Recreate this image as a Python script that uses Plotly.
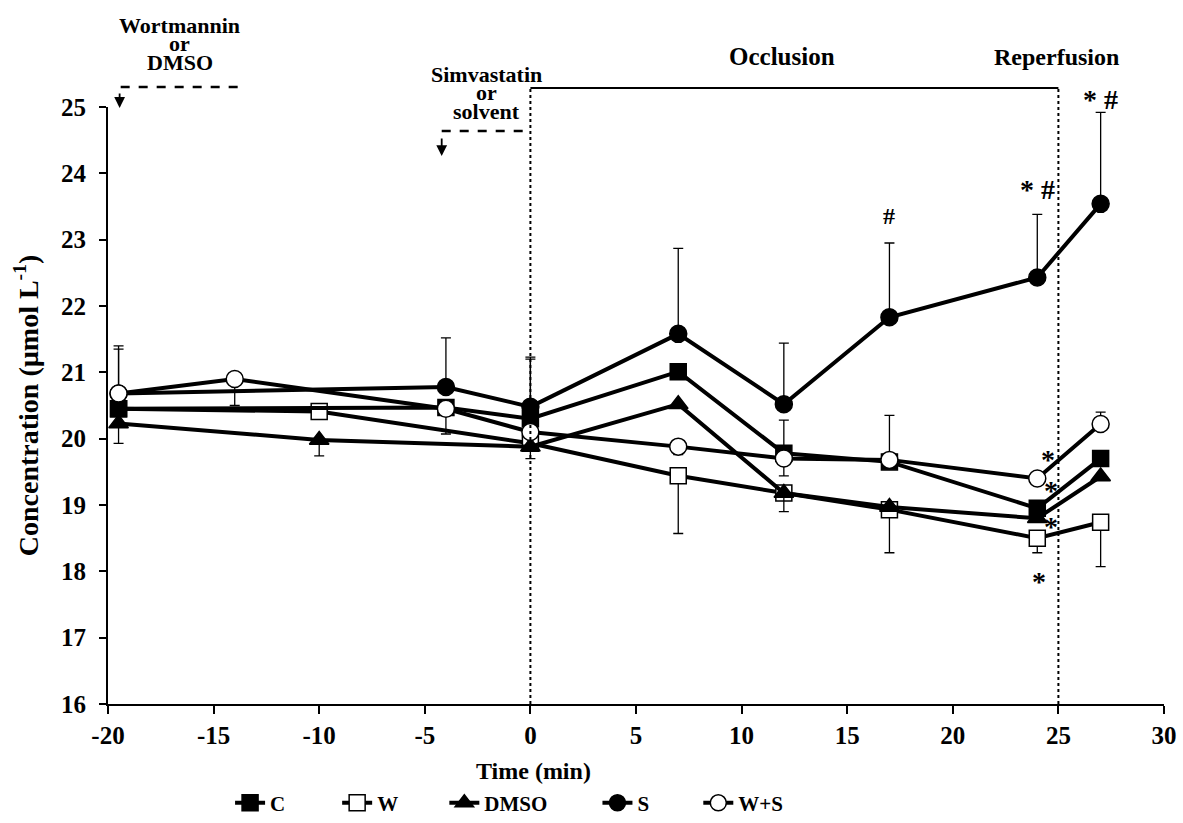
import plotly.graph_objects as go

# ---- data ----
t_C = [-19.5, -4, 0, 7, 12, 17, 24, 27]
C = [20.45, 20.47, 20.30, 21.01, 19.78, 19.65, 18.95, 19.70]
C_up = [0.90, 0, 0.90, 0, 0.50, 0, 0, 0]
C_dn = [0, 0, 0, 0, 0, 0, 0, 0]

t_W = [-19.5, -10, 0, 7, 12, 17, 24, 27]
W = [20.45, 20.41, 19.93, 19.44, 19.18, 18.93, 18.50, 18.74]
W_up = [0, 0, 0, 0, 0, 0, 0, 0]
W_dn = [0, 0, 0, 0.87, 0, 0.65, 0.22, 0.67]

t_D = [-19.5, -10, 0, 7, 12, 17, 24, 27]
DMSO = [20.23, 19.98, 19.88, 20.52, 19.18, 18.97, 18.80, 19.43]
D_up = [0, 0, 0, 0, 0, 0, 0, 0]
D_dn = [0.30, 0.24, 0.18, 0, 0.28, 0, 0, 0]

t_S = [-19.5, -4, 0, 7, 12, 17, 24, 27]
S = [20.68, 20.78, 20.48, 21.58, 20.52, 21.83, 22.43, 23.54]
S_up = [0.72, 0.74, 0.75, 1.29, 0.92, 1.12, 0.95, 1.38]
S_dn = [0, 0, 0, 0, 0, 0, 0, 0]

t_WS = [-19.5, -14, -4, 0, 7, 12, 17, 24, 27]
WS = [20.68, 20.90, 20.45, 20.10, 19.88, 19.70, 19.68, 19.40, 20.22]
WS_up = [0, 0, 0, 0, 0, 0, 0.67, 0.10, 0.18]
WS_dn = [0, 0.40, 0.38, 0, 0.12, 0.26, 0, 0, 0]

x_ticks = list(range(-20, 31, 5))
x_ticktext = [str(v) for v in x_ticks]          # plain hyphen minus as in the reference
y_ticks = list(range(16, 26))

FONT = "Liberation Serif"

series = [
    # name, t, y, up, dn, symbol, fill, size, legend id, legend x
    ("W", t_W, W, W_up, W_dn, "square", "white", 16, "legend2", 0.217),
    ("DMSO", t_D, DMSO, D_up, D_dn, "triangle-up", "black", 17, "legend3", 0.3185),
    ("C", t_C, C, C_up, C_dn, "square", "black", 16, "legend", 0.1156),
    ("S", t_S, S, S_up, S_dn, "circle", "black", 17, "legend4", 0.4635),
    ("W+S", t_WS, WS, WS_up, WS_dn, "circle", "white", 17, "legend5", 0.559),
]

fig = go.Figure()
legends = {}
for name, t, y, up, dn, sym, fill, size, lg, lx in series:
    fig.add_trace(go.Scatter(
        x=t, y=y, name=name, mode="lines+markers", showlegend=True,
        line=dict(color="black", width=4),
        marker=dict(symbol=sym, size=size, color=fill,
                    line=dict(color="black", width=1.5)),
        error_y=dict(type="data", symmetric=False, array=up, arrayminus=dn,
                     color="black", thickness=1.3, width=5),
        legend=lg, cliponaxis=False,
    ))
    legends[lg] = dict(x=lx, y=-0.166, xanchor="left", yanchor="middle",
                       orientation="h", itemwidth=30, bgcolor="rgba(0,0,0,0)",
                       font=dict(family=FONT, size=21, color="black", weight="bold"))

# phase lines
fig.add_shape(type="line", xref="x", yref="paper", x0=0, x1=25, y0=1.0318, y1=1.0318,
              line=dict(color="black", width=2))
for xv in (0, 25):
    fig.add_shape(type="line", xref="x", yref="paper", x0=xv, x1=xv, y0=0, y1=1.0318,
                  line=dict(color="black", width=2, dash="dot"))
# dashed treatment lines
fig.add_shape(type="line", xref="x", yref="paper", x0=-19.4, x1=-13.7, y0=1.0335, y1=1.0335,
              line=dict(color="black", width=2.5, dash="dash"))
fig.add_shape(type="line", xref="x", yref="paper", x0=-4.2, x1=-0.05, y0=0.960, y1=0.960,
              line=dict(color="black", width=2.5, dash="dash"))

def txt(x, y, s, xref="x", yref="paper", size=22):
    fig.add_annotation(x=x, y=y, xref=xref, yref=yref, text=s, showarrow=False,
                       font=dict(family=FONT, size=size, color="black", weight="bold"),
                       xanchor="center", yanchor="middle")

txt(-16.6, 1.137, "Wortmannin")
txt(-16.6, 1.107, "or")
txt(-16.6, 1.075, "DMSO")
txt(-2.1, 1.055, "Simvastatin")
txt(-2.1, 1.025, "or")
txt(-2.1, 0.992, "solvent")
txt(11.9, 1.084, "Occlusion", size=25)
txt(24.9, 1.084, "Reperfusion", size=24)
txt(0.403, -0.112, "Time (min)", xref="paper", size=24)

# arrows
for xa, ytip, ylen in ((-19.45, 0.9985, -16), (-4.2, 0.918, -19)):
    fig.add_annotation(x=xa, y=ytip, xref="x", yref="paper", text="", showarrow=True,
                       ax=0, ay=ylen, arrowhead=2, arrowsize=1.2, arrowwidth=1.8,
                       arrowcolor="black", standoff=0)

# significance marks
def mark(x, y, s, size=28, yref="y"):
    fig.add_annotation(x=x, y=y, xref="x", yref=yref, text=s, showarrow=False,
                       font=dict(family=FONT, size=size, color="black", weight="bold"))

mark(17, 23.35, "#", size=24)
mark(24.0, 23.75, "* #")
mark(27.0, 1.042, "* #", yref="paper")
mark(24.5, 19.68, "*")
mark(24.65, 19.22, "*")
mark(24.65, 18.68, "*")
mark(24.1, 17.85, "*")

fig.update_layout(
    width=1183, height=823,
    margin=dict(l=108, r=19, t=107, b=119, autoexpand=False),
    plot_bgcolor="white", paper_bgcolor="white",
    font=dict(family=FONT, size=20, color="black"),
    showlegend=True,
    **legends,
)
fig.update_xaxes(range=[-20, 30], tickvals=x_ticks, ticktext=x_ticktext,
                 showline=True, linecolor="black", linewidth=2, ticks="outside",
                 ticklen=8, tickwidth=2, tickcolor="black", showgrid=False, zeroline=False,
                 tickfont=dict(family=FONT, size=25, color="black", weight="bold"))
fig.update_yaxes(range=[16, 25], tickvals=y_ticks,
                 showline=True, linecolor="black", linewidth=2, ticks="outside",
                 ticklen=7, tickwidth=2, tickcolor="black", showgrid=False, zeroline=False,
                 ticklabelstandoff=8,
                 tickfont=dict(family=FONT, size=25, color="black", weight="bold"),
                 title=dict(text="Concentration (µmol L<sup>-1</sup>)", standoff=14,
                            font=dict(family=FONT, size=28, color="black", weight="bold")))

fig.write_html("out.html")
